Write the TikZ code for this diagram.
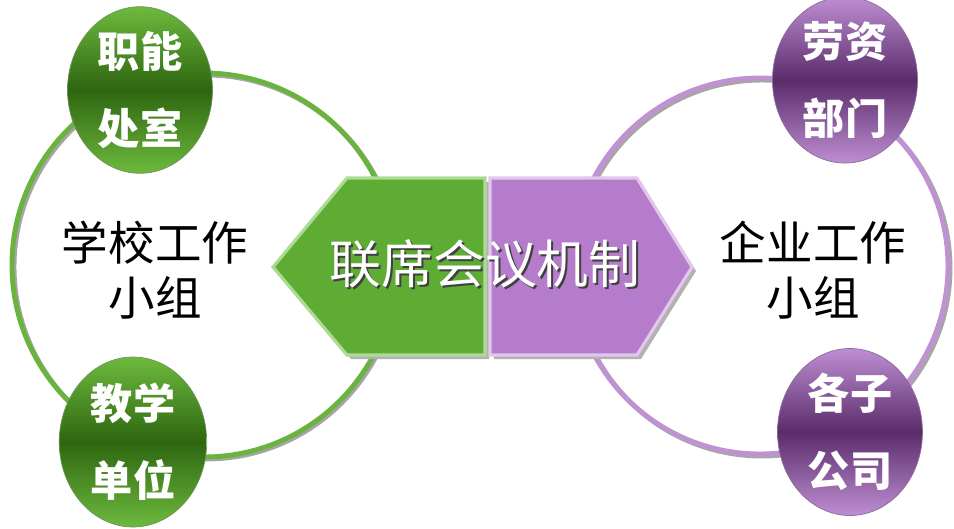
\documentclass[tikz,border=0pt]{standalone}
\usepackage{fontspec}
\setmainfont{Noto Sans CJK SC}
\usepackage{tikz}
\usetikzlibrary{shapes.geometric}

\definecolor{ringgreen}{HTML}{6BB33F}
\definecolor{ringpurple}{HTML}{C092D2}
\definecolor{ballgreenlight}{HTML}{6DBA3E}
\definecolor{ballgreendark}{HTML}{2E6610}
\definecolor{ballpurplelight}{HTML}{BE8ED2}
\definecolor{ballpurpledark}{HTML}{5A2C6A}
\definecolor{hexgreen}{HTML}{5EAC34}
\definecolor{hexgreenrim}{HTML}{ADDB93}
\definecolor{hexpurple}{HTML}{B47CCB}
\definecolor{hexpurplerim}{HTML}{E2C6EC}

\newcommand{\shadowtext}[1]{\makebox[0pt][l]{\hspace{1.2pt}\raisebox{-1.2pt}{\color{black!75}#1}}#1}

\begin{document}
\begin{tikzpicture}[x=0.02cm,y=-0.02cm,
    ring/.style={draw=#1,line width=2.8pt},
    ringshade/.style={draw=gray!70,line width=2.8pt},
    ball/.style={ellipse,inner sep=0pt,draw=#1dark!70,thin,
        top color=#1light,bottom color=#1light,middle color=#1dark,
        text=white,align=center,font=\fontsize{24}{44}\selectfont\bfseries},
    group/.style={align=center,font=\fontsize{26.5}{31}\selectfont},
    hubtext/.style={text=white,font=\fontsize{29.5}{32}\selectfont}]
    \useasboundingbox (0,0) rectangle (954,528);

    % the two rings
    \draw[ringshade] (206,267) circle (192*0.02cm);
    \draw[ring=ringgreen] (204,265) circle (192*0.02cm);
    \draw[ringshade] (762,268) circle (188*0.02cm);
    \draw[ring=ringpurple] (760,266) circle (188*0.02cm);

    % joint meeting arrows
    \fill[gray!60] (277,271) -- (351,182) -- (489,182) -- (489,359) -- (351,359) -- cycle;
    \filldraw[fill=hexgreen,draw=hexgreenrim,line width=1.8pt]
        (273,267) -- (347,178) -- (485,178) -- (485,355) -- (347,355) -- cycle;
    \fill[gray!60] (494,182) -- (641,182) -- (696,271) -- (641,359) -- (494,359) -- cycle;
    \filldraw[fill=hexpurple,draw=hexpurplerim,line width=1.8pt]
        (490,178) -- (637,178) -- (692,267) -- (637,355) -- (490,355) -- cycle;

    % balls on the rings
    \node[ball=ballgreen,minimum width=2.9cm,minimum height=3.3cm] (office) at (140,90) {职能\\处室};
    \node[ball=ballgreen,minimum width=2.95cm,minimum height=3.4cm] (teach) at (133,442) {教学\\单位};
    \node[ball=ballpurple,minimum width=2.9cm,minimum height=2.95cm] (labour) at (845,80) {劳资\\部门};
    \node[ball=ballpurple,minimum width=2.9cm,minimum height=3.0cm] (branch) at (850,432) {各子\\公司};

    % group names
    \node[group] (school) at (155,270) {学校工作\\小组};
    \node[group] (firm) at (813,270) {企业工作\\小组};

    % mechanism title
    \node[hubtext] (hub) at (485,265) {\shadowtext{联席会议机制}};
\end{tikzpicture}
\end{document}
